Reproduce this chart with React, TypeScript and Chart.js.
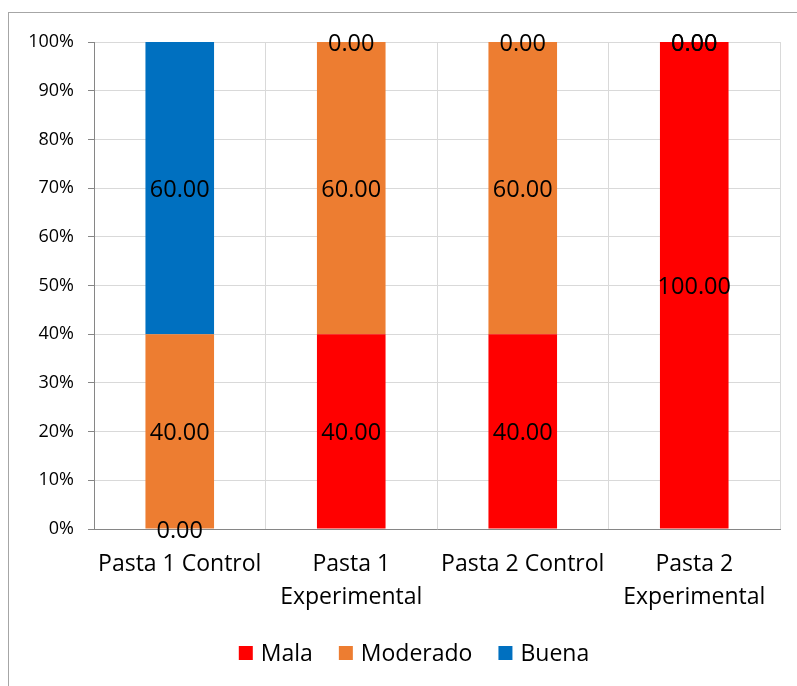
import React, { useEffect, useRef } from "react";
import { Chart, registerables } from "chart.js";

Chart.register(...registerables);

const categories: (string | string[])[] = [
  "Pasta 1 Control",
  ["Pasta 1", "Experimental"],
  "Pasta 2 Control",
  ["Pasta 2", "Experimental"],
];
const mala = [0, 40, 40, 100];
const moderado = [40, 60, 60, 0];
const buena = [60, 0, 0, 0];
const yTicks = [0, 10, 20, 30, 40, 50, 60, 70, 80, 90, 100];

const FONT = "'Open Sans', 'Noto Sans', sans-serif";

const dataLabels = {
  id: "dataLabels",
  afterDatasetsDraw(chart: any) {
    const ctx = chart.ctx;
    ctx.save();
    ctx.font = `23.5px ${FONT}`;
    ctx.fillStyle = "#000";
    ctx.textAlign = "center";
    ctx.textBaseline = "middle";
    chart.data.datasets.forEach((ds: any, di: number) => {
      const meta = chart.getDatasetMeta(di);
      meta.data.forEach((el: any, i: number) => {
        const v = ds.data[i] as number;
        const cy = (el.y + el.base) / 2 + 2;
        ctx.fillText(v.toFixed(2), el.x, cy);
      });
    });
    ctx.restore();
  },
};

// Legend drawn below the axis labels, centred like the original (wider) chart box
const bottomLegend = {
  id: "bottomLegend",
  afterDraw(chart: any) {
    const ctx = chart.ctx;
    const box = 14;
    const gap = 8;
    const spacing = 26;
    ctx.save();
    ctx.font = `23px ${FONT}`;
    ctx.textAlign = "left";
    ctx.textBaseline = "middle";
    const items = chart.data.datasets.map((ds: any) => ({
      text: ds.label as string,
      color: ds.backgroundColor as string,
      w: ctx.measureText(ds.label).width,
    }));
    const total =
      items.reduce((s: number, it: any) => s + box + gap + it.w, 0) +
      spacing * (items.length - 1);
    const cx = 414;
    const cy = 653;
    let x = cx - total / 2;
    items.forEach((it: any) => {
      ctx.fillStyle = it.color;
      ctx.fillRect(x, cy - box / 2, box, box);
      ctx.fillStyle = "#000";
      ctx.fillText(it.text, x + box + gap, cy + 1);
      x += box + gap + it.w + spacing;
    });
    ctx.restore();
  },
};

export default function App() {
  const ref = useRef<HTMLCanvasElement | null>(null);
  useEffect(() => {
    if (!ref.current) return;
    const chart = new Chart(ref.current, {
      type: "bar",
      data: {
        labels: categories,
        datasets: [
          { label: "Mala", data: mala, backgroundColor: "#FF0000" },
          { label: "Moderado", data: moderado, backgroundColor: "#ED7D31" },
          { label: "Buena", data: buena, backgroundColor: "#0070C0" },
        ],
      },
      options: {
        animation: false,
        responsive: false,
        devicePixelRatio: 1,
        layout: { padding: { top: 42, right: 17, bottom: 68, left: 0 } },
        datasets: { bar: { categoryPercentage: 1, barPercentage: 0.4 } },
        plugins: {
          tooltip: { enabled: false },
          legend: { display: false },
        },
        scales: {
          x: {
            stacked: true,
            grid: { color: "#d9d9d9", drawTicks: false, tickLength: 0, offset: true },
            border: { color: "#868686" },
            ticks: {
              color: "#000",
              padding: 19,
              maxRotation: 0,
              autoSkip: false,
              font: { family: FONT, size: 23, lineHeight: 1.43 },
            },
            afterFit(scale: any) {
              scale.height = 89;
            },
          },
          y: {
            stacked: true,
            min: 0,
            max: 100,
            afterBuildTicks(scale: any) {
              scale.ticks = yTicks.map((v) => ({ value: v }));
            },
            grid: { color: "#d9d9d9", tickColor: "#868686", tickLength: 6 },
            border: { color: "#868686" },
            ticks: {
              color: "#000",
              padding: 14,
              font: { family: FONT, size: 18 },
              callback: (v: any) => `${v}%`,
            },
            afterFit(scale: any) {
              scale.width = 94;
            },
          },
        },
      },
      plugins: [dataLabels, bottomLegend],
    });
    return () => chart.destroy();
  }, []);

  return (
    <>
      <div
        style={{
          position: "fixed",
          left: 8,
          top: 12,
          width: 789,
          height: 674,
          borderLeft: "1px solid #a6a6a6",
          borderTop: "1px solid #a6a6a6",
          boxSizing: "border-box",
        }}
      />
      <canvas
        ref={ref}
        width={797}
        height={686}
        style={{ position: "fixed", left: 0, top: 0, width: 797, height: 686 }}
      />
    </>
  );
}
